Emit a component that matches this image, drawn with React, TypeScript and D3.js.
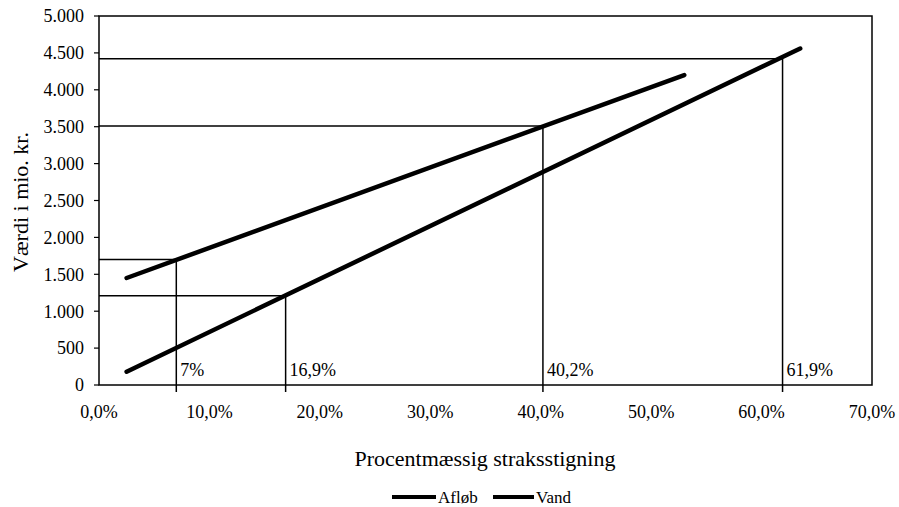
import React from "react";
import * as d3 from "d3";

const xTicks = [0, 10, 20, 30, 40, 50, 60, 70];
const yTicks = [0, 500, 1000, 1500, 2000, 2500, 3000, 3500, 4000, 4500, 5000];

const afloebX = [2.5, 53];
const afloebY = [1450, 4200];
const vandX = [2.5, 63.5];
const vandY = [180, 4560];

const markX = [7, 16.9, 40.2, 61.9];
const markY = [1700, 1210, 3510, 4420];
const markLabels = ["7%", "16,9%", "40,2%", "61,9%"];

const seriesNames = ["Afløb", "Vand"];

const W = 899;
const H = 507;
const font = "'Liberation Serif', 'Times New Roman', serif";

const fmtY = (v: number) => d3.format(",")(v).replace(/,/g, ".");
const fmtX = (v: number) => d3.format(".1f")(v).replace(".", ",") + "%";

export default function App() {
  const x = d3.scaleLinear().domain([0, 70]).range([99, 872]);
  const y = d3.scaleLinear().domain([0, 5000]).range([385, 16]);

  const line = d3
    .line<[number, number]>()
    .x((d) => x(d[0]))
    .y((d) => y(d[1]));

  const afloeb = afloebX.map((v, i) => [v, afloebY[i]] as [number, number]);
  const vand = vandX.map((v, i) => [v, vandY[i]] as [number, number]);

  return (
    <svg
      width={W}
      height={H}
      style={{ position: "absolute", left: 0, top: 0, background: "#fff" }}
      fontFamily={font}
    >
      {/* plot frame */}
      <rect
        x={x(0)}
        y={y(5000)}
        width={x(70) - x(0)}
        height={y(0) - y(5000)}
        fill="none"
        stroke="#000"
        strokeWidth={1.5}
      />

      {/* y axis ticks + labels */}
      {yTicks.map((t) => (
        <g key={t}>
          <line x1={x(0) - 5} x2={x(0)} y1={y(t)} y2={y(t)} stroke="#000" strokeWidth={1.2} />
          <text x={84} y={y(t)} dy="0.35em" textAnchor="end" fontSize={18}>
            {fmtY(t)}
          </text>
        </g>
      ))}

      {/* x axis labels */}
      {xTicks.map((t) => (
        <text key={t} x={x(t)} y={418} textAnchor="middle" fontSize={18}>
          {fmtX(t)}
        </text>
      ))}

      {/* reference lines */}
      {markX.map((mx, i) => (
        <g key={mx}>
          <line
            x1={x(0)}
            x2={x(mx)}
            y1={y(markY[i])}
            y2={y(markY[i])}
            stroke="#000"
            strokeWidth={1.5}
          />
          <line
            x1={x(mx)}
            x2={x(mx)}
            y1={y(markY[i])}
            y2={y(0) + 7}
            stroke="#000"
            strokeWidth={1.5}
          />
          <text x={x(mx) + 4} y={y(0) - 9} fontSize={18}>
            {markLabels[i]}
          </text>
        </g>
      ))}

      {/* series */}
      <path d={line(afloeb) ?? ""} fill="none" stroke="#000" strokeWidth={4.5} strokeLinecap="round" />
      <path d={line(vand) ?? ""} fill="none" stroke="#000" strokeWidth={4.5} strokeLinecap="round" />

      {/* axis titles */}
      <text
        transform={`translate(28,202) rotate(-90)`}
        textAnchor="middle"
        fontSize={22}
      >
        Værdi i mio. kr.
      </text>
      <text x={485} y={466} textAnchor="middle" fontSize={22}>
        Procentmæssig straksstigning
      </text>

      {/* legend */}
      <g>
        <line x1={392} x2={436} y1={497} y2={497} stroke="#000" strokeWidth={4} />
        <text x={438} y={503} fontSize={17}>
          {seriesNames[0]}
        </text>
        <line x1={493} x2={534} y1={497} y2={497} stroke="#000" strokeWidth={4} />
        <text x={536} y={503} fontSize={17}>
          {seriesNames[1]}
        </text>
      </g>
    </svg>
  );
}
